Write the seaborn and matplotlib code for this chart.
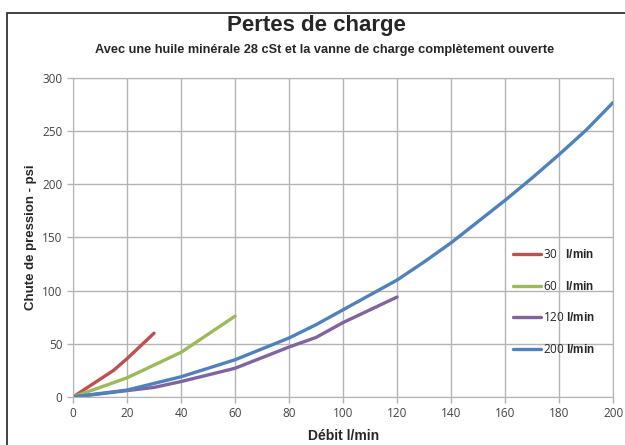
import pandas as pd
import matplotlib
matplotlib.use("Agg")
import matplotlib.pyplot as plt
import seaborn as sns
from matplotlib.patches import Rectangle

# débit (l/min) et chute de pression (psi) pour chaque taille de vanne
x_30 = [0, 15, 20, 30]
y_30 = [0, 25, 36, 60]
x_60 = [0, 20, 30, 40, 60]
y_60 = [0, 18, 30, 42, 76]
x_120 = [0, 20, 30, 40, 60, 80, 90, 100, 120]
y_120 = [0, 6, 9, 14.5, 27, 47, 56, 70, 94]
x_200 = [0, 20, 40, 60, 80, 90, 100, 110, 120, 130, 140, 150, 160, 170, 180, 190, 200]
y_200 = [0, 6.5, 19, 35, 55.5, 68, 82, 96, 110, 127, 145, 165, 185, 206, 228, 251, 277]

labels = ["30", "60", "120", "200"]
colors = ["#c0504d", "#9bbb59", "#8064a2", "#4f81bd"]

frames = []
for lab, xs, ys in zip(labels, [x_30, x_60, x_120, x_200], [y_30, y_60, y_120, y_200]):
    frames.append(pd.DataFrame({"debit": xs, "psi": ys, "vanne": lab}))
df = pd.concat(frames, ignore_index=True)

sns.set_style("white")
plt.rcParams["font.family"] = ["Liberation Sans", "DejaVu Sans"]
plt.rcParams["mathtext.fontset"] = "custom"
plt.rcParams["mathtext.bf"] = "Liberation Sans:bold"
plt.rcParams["mathtext.rm"] = "Liberation Sans"

fig = plt.figure(figsize=(6.25, 4.45), dpi=100)
ax = fig.add_axes([0.1168, 0.1079, 0.8642, 0.7168])

sns.lineplot(data=df, x="debit", y="psi", hue="vanne", palette=dict(zip(labels, colors)),
             linewidth=2.4, sort=False, estimator=None, ax=ax)

ax.set_xlim(0, 200)
ax.set_ylim(0, 300)
ax.set_xticks(range(0, 201, 20))
ax.set_yticks(range(0, 301, 50))
ax.grid(True, color="#b4b4b4", linewidth=1)
for s in ax.spines.values():
    s.set_color("#b4b4b4")
ax.tick_params(axis="both", colors="#444444", length=4, width=1,
               direction="out", left=True, bottom=True)
ax.tick_params(axis="both", color="#b4b4b4")
for t in ax.get_xticklabels() + ax.get_yticklabels():
    t.set_fontfamily(["Open Sans", "DejaVu Sans"])
    t.set_fontsize(8.5)

ax.set_xlabel("Débit l/min", fontsize=10, fontweight="bold", labelpad=6)
ax.set_ylabel("Chute de pression - psi", fontsize=9.5, fontweight="bold", labelpad=4)

handles, _ = ax.get_legend_handles_labels()
leg_labels = ["30   $\\mathbf{l/min}$", "60   $\\mathbf{l/min}$",
              "120 $\\mathbf{l/min}$", "200 $\\mathbf{l/min}$"]
leg = ax.legend(handles, leg_labels, loc="upper left", bbox_to_anchor=(0.795, 0.50),
                frameon=False, fontsize=8.5, labelspacing=1.58, handlelength=2.4,
                handletextpad=0.1)
for t in leg.get_texts():
    t.set_fontfamily(["Open Sans", "DejaVu Sans"])

fig.text(0.507, 0.943, "Pertes de charge", ha="center", va="center",
         fontsize=16, fontweight="bold")
fig.text(0.52, 0.887, "Avec une huile minérale 28 cSt et la vanne de charge complètement ouverte",
         ha="center", va="center", fontsize=9.2, fontweight="bold")

fig.patches.append(Rectangle((7 / 625, -0.02), 1.02, 0.9708 + 0.02, transform=fig.transFigure,
                             fill=False, edgecolor="#222222", linewidth=1.2))

fig.savefig("out.png", dpi=100)
